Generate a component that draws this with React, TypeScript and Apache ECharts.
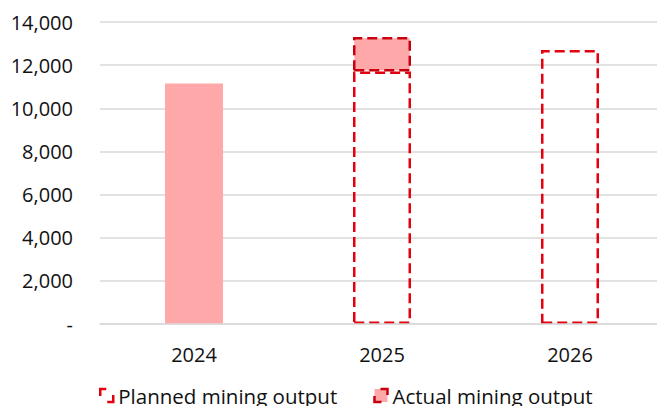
import React, { useEffect, useRef } from "react";
import * as echarts from "echarts";

const categories = ["2024", "2025", "2026"];
const plannedValues: (number | null)[] = [null, 11700, 12700];
const actualValues: (number | null)[] = [11150, 1600, null];
const yTicks = [0, 2000, 4000, 6000, 8000, 10000, 12000, 14000];

const RED = "#e3000f";
const DARKRED = "#c8000e";
const PINK = "#ffa8aa";
const FONT = "'Open Sans', 'Noto Sans', sans-serif";

export default function App() {
  const ref = useRef<HTMLDivElement>(null);
  useEffect(() => {
    if (!ref.current) return;
    const chart = echarts.init(ref.current, null, { renderer: "svg" });
    chart.setOption({
      animation: false,
      textStyle: { fontFamily: FONT },
      grid: { left: 100, right: 36, top: 22, bottom: 82 },
      legend: {
        left: 99,
        top: 385,
        padding: 0,
        itemWidth: 13,
        itemHeight: 13,
        itemGap: 36,
        textStyle: {
          fontSize: 20.5,
          lineHeight: 20,
          color: "#111",
          fontFamily: FONT,
        },
        data: [
          {
            name: "Planned mining output",
            icon: "rect",
            itemStyle: {
              color: "#fff",
              borderColor: RED,
              borderWidth: 2.5,
              borderType: [13, 13],
              borderDashOffset: 6.5,
            },
          },
          {
            name: "Actual mining output",
            icon: "rect",
            itemStyle: {
              color: PINK,
              borderColor: DARKRED,
              borderWidth: 2.5,
              borderType: [13, 13],
              borderDashOffset: 19.5,
            },
          },
        ],
      },
      xAxis: {
        type: "category",
        data: categories,
        z: 3,
        axisLine: { show: true, lineStyle: { color: "rgba(217,217,217,0.75)", width: 2 } },
        axisTick: { show: false },
        axisLabel: { fontSize: 20, color: "#111", margin: 20, fontFamily: FONT },
      },
      yAxis: {
        type: "value",
        min: yTicks[0],
        max: yTicks[yTicks.length - 1],
        interval: 2000,
        axisLine: { show: false },
        axisTick: { show: false },
        splitLine: { lineStyle: { color: "#d9d9d9", width: 1.5 } },
        axisLabel: {
          fontSize: 20,
          color: "#111",
          margin: 27,
          fontFamily: FONT,
          formatter: (v: number) => (v === 0 ? "-" : v.toLocaleString("en-US")),
        },
      },
      series: [
        {
          name: "Planned mining output",
          type: "bar",
          stack: "total",
          barWidth: 58,
          data: plannedValues,
          itemStyle: {
            color: "rgba(255,255,255,0)",
            borderColor: RED,
            borderWidth: 2.5,
            borderType: [10, 5],
          },
        },
        {
          name: "Actual mining output",
          type: "bar",
          stack: "total",
          barWidth: 58,
          data: actualValues.map((v, i) =>
            i === 0 ? { value: v, itemStyle: { borderWidth: 0 } } : { value: v }
          ),
          itemStyle: {
            color: PINK,
            borderColor: DARKRED,
            borderWidth: 2.5,
            borderType: [10, 5],
          },
        },
      ],
    });
    return () => chart.dispose();
  }, []);
  return (
    <div
      style={{
        position: "fixed",
        left: 0,
        top: 0,
        width: 657,
        height: 406,
        overflow: "hidden",
        background: "#fff",
      }}
    >
      <div ref={ref} style={{ width: 700, height: 406 }} />
    </div>
  );
}
